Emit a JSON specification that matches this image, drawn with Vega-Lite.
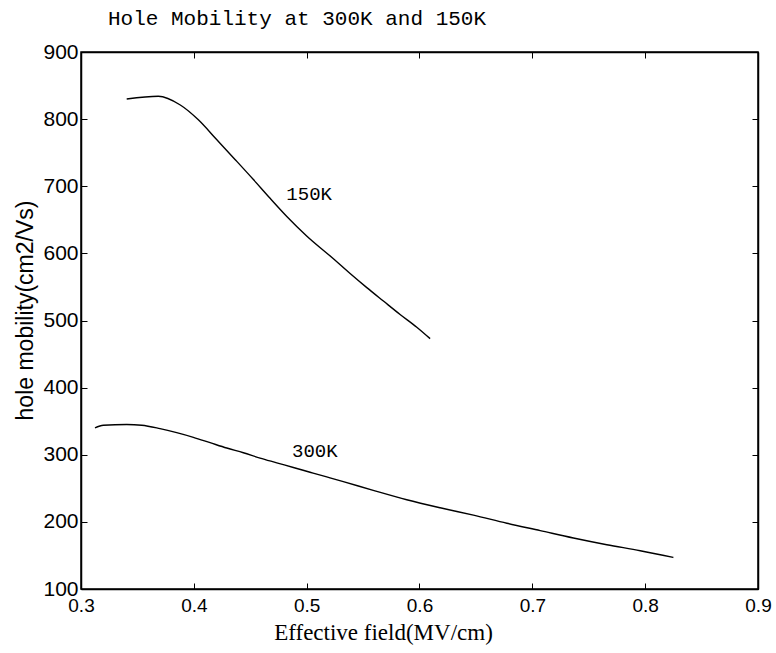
{
  "$schema": "https://vega.github.io/schema/vega-lite/v6.json",
  "width": 677,
  "height": 537,
  "autosize": "none",
  "padding": {"left": 81, "top": 52, "right": 18, "bottom": 64},
  "background": "white",
  "title": {"text": "Hole Mobility at 300K and 150K", "anchor": "start", "frame": "group", "dx": 27, "offset": -5, "baseline": "alphabetic", "font": "Liberation Mono", "fontSize": 21, "fontWeight": "normal", "color": "black"},
  "config": {
    "view": {"stroke": "black", "strokeWidth": 1.5},
    "axis": {"grid": false, "domainColor": "black", "domainWidth": 1.5, "tickColor": "black", "tickSize": -6, "tickWidth": 1, "labelFont": "Liberation Sans", "labelColor": "black", "labelFlush": false, "labelOverlap": false, "labelBound": false, "titleColor": "black", "titleFontWeight": "normal"}
  },
  "datasets": {
    "curves": [
      {"series": "150K", "field": 0.3405, "mobility": 830},
      {"series": "150K", "field": 0.3685, "mobility": 834},
      {"series": "150K", "field": 0.388, "mobility": 821},
      {"series": "150K", "field": 0.404, "mobility": 799},
      {"series": "150K", "field": 0.420, "mobility": 770},
      {"series": "150K", "field": 0.4365, "mobility": 740},
      {"series": "150K", "field": 0.4528, "mobility": 710},
      {"series": "150K", "field": 0.4676, "mobility": 682},
      {"series": "150K", "field": 0.4824, "mobility": 655},
      {"series": "150K", "field": 0.500, "mobility": 626},
      {"series": "150K", "field": 0.5237, "mobility": 592},
      {"series": "150K", "field": 0.5385, "mobility": 570},
      {"series": "150K", "field": 0.5533, "mobility": 549},
      {"series": "150K", "field": 0.568, "mobility": 529},
      {"series": "150K", "field": 0.5828, "mobility": 509},
      {"series": "150K", "field": 0.5976, "mobility": 490},
      {"series": "150K", "field": 0.6094, "mobility": 473},
      {"series": "300K", "field": 0.3124, "mobility": 340},
      {"series": "300K", "field": 0.3198, "mobility": 344},
      {"series": "300K", "field": 0.3405, "mobility": 345},
      {"series": "300K", "field": 0.3538, "mobility": 344},
      {"series": "300K", "field": 0.370, "mobility": 339},
      {"series": "300K", "field": 0.3848, "mobility": 333},
      {"series": "300K", "field": 0.3996, "mobility": 326},
      {"series": "300K", "field": 0.4144, "mobility": 318},
      {"series": "300K", "field": 0.4292, "mobility": 310},
      {"series": "300K", "field": 0.4439, "mobility": 303},
      {"series": "300K", "field": 0.4587, "mobility": 295},
      {"series": "300K", "field": 0.4735, "mobility": 288},
      {"series": "300K", "field": 0.4882, "mobility": 281},
      {"series": "300K", "field": 0.503, "mobility": 274},
      {"series": "300K", "field": 0.5178, "mobility": 267},
      {"series": "300K", "field": 0.5325, "mobility": 260},
      {"series": "300K", "field": 0.559, "mobility": 247},
      {"series": "300K", "field": 0.5887, "mobility": 233},
      {"series": "300K", "field": 0.6183, "mobility": 221},
      {"series": "300K", "field": 0.6478, "mobility": 210},
      {"series": "300K", "field": 0.6774, "mobility": 198},
      {"series": "300K", "field": 0.707, "mobility": 187},
      {"series": "300K", "field": 0.7364, "mobility": 176},
      {"series": "300K", "field": 0.766, "mobility": 166},
      {"series": "300K", "field": 0.7956, "mobility": 157},
      {"series": "300K", "field": 0.825, "mobility": 147}
    ],
    "labels": [
      {"series": "150K", "field": 0.482, "mobility": 688},
      {"series": "300K", "field": 0.487, "mobility": 306}
    ]
  },
  "layer": [
    {
      "data": {"name": "curves"},
      "mark": {"type": "line", "color": "black", "strokeWidth": 1.4, "interpolate": "monotone"},
      "encoding": {
        "x": {"field": "field", "type": "quantitative", "scale": {"domain": [0.3, 0.9], "nice": false, "zero": false},
          "axis": {"orient": "bottom", "values": [0.3, 0.4, 0.5, 0.6, 0.7, 0.8, 0.9], "format": ".1f", "labelFontSize": 19, "labelPadding": 13, "title": "Effective field(MV/cm)", "titleFont": "Liberation Serif", "titleFontSize": 23, "titleX": 302, "titleY": 50, "titleAlign": "center", "titleBaseline": "alphabetic"}},
        "y": {"field": "mobility", "type": "quantitative", "scale": {"domain": [100, 900], "nice": false, "zero": false},
          "axis": {"orient": "left", "values": [100, 200, 300, 400, 500, 600, 700, 800, 900], "labelFontSize": 21, "labelPadding": 9, "title": "hole mobility(cm2/Vs)", "titleFont": "Liberation Sans", "titleFontSize": 23, "titleAngle": -90, "titleX": -49, "titleY": 258, "titleAlign": "center", "titleBaseline": "alphabetic"}},
        "detail": {"field": "series"},
        "order": {"field": "field", "type": "quantitative"}
      }
    },
    {
      "data": {"name": "labels"},
      "mark": {"type": "text", "font": "Liberation Mono", "fontSize": 19, "align": "left", "baseline": "middle", "color": "black"},
      "encoding": {
        "x": {"field": "field", "type": "quantitative", "axis": {"orient": "top", "values": [0.3, 0.4, 0.5, 0.6, 0.7, 0.8, 0.9], "labels": false, "title": null}},
        "y": {"field": "mobility", "type": "quantitative", "axis": {"orient": "right", "values": [100, 200, 300, 400, 500, 600, 700, 800, 900], "labels": false, "title": null}},
        "text": {"field": "series"}
      }
    }
  ],
  "resolve": {"axis": {"x": "independent", "y": "independent"}}
}
